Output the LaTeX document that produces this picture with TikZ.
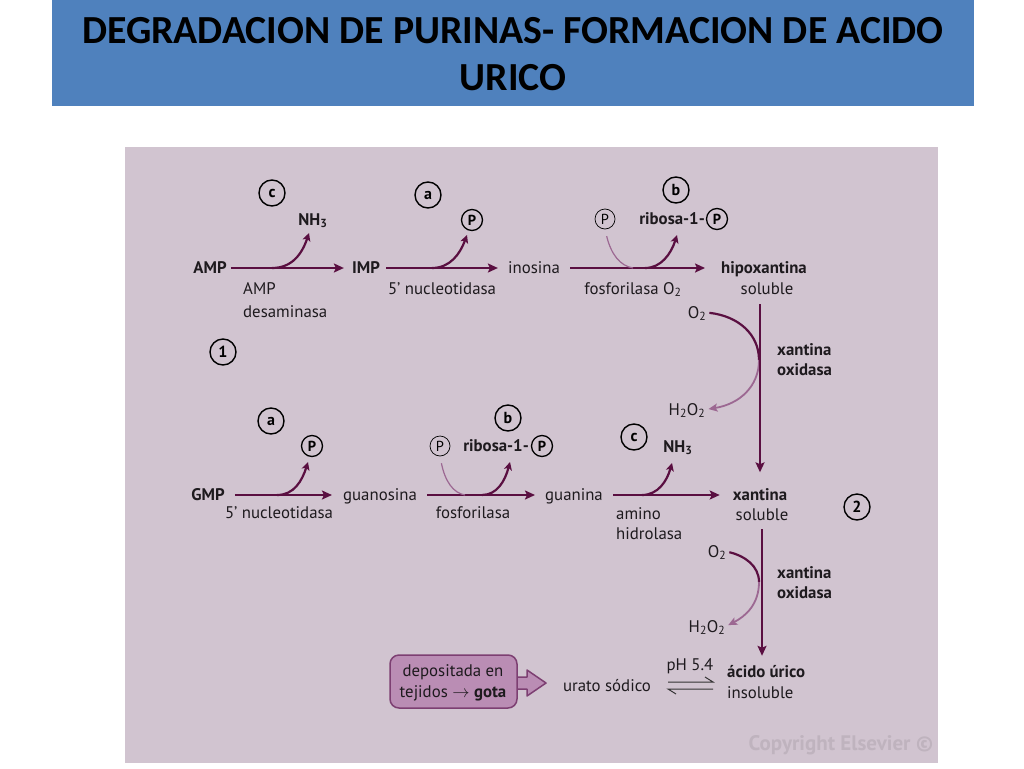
\documentclass[tikz,border=0pt]{standalone}
\usepackage{fontspec}
\setmainfont{PT Sans}
\newfontfamily\titlefont{Carlito}
\usetikzlibrary{arrows.meta}
\definecolor{titleblue}{HTML}{4F81BD}
\definecolor{panelbg}{HTML}{D1C4D0}
\definecolor{darkarrow}{HTML}{5A0F41}
\definecolor{lightarrow}{HTML}{9C6892}
\definecolor{boxfill}{HTML}{BA8DB4}
\definecolor{boxedge}{HTML}{7D3F72}
\definecolor{copyc}{HTML}{BFB3BE}
\definecolor{txt}{HTML}{1E1A1E}
\begin{document}
\begin{tikzpicture}[x=1pt,y=-1pt,
  lbl/.style={anchor=base, inner sep=0pt, text height=13pt, text depth=2pt, text=txt, font=\fontsize{16.8}{19}\selectfont},
  blbl/.style={lbl, font=\fontsize{16.8}{19}\selectfont\bfseries},
  circ/.style={circle, draw=black, line width=1.4pt, minimum size=26pt, inner sep=0pt, text=black, font=\fontsize{16}{16}\selectfont\bfseries},
  pbold/.style={circle, draw=black, line width=1.3pt, minimum size=21pt, inner sep=0pt, text=black, font=\fontsize{14.5}{14}\selectfont\bfseries},
  pthin/.style={circle, draw=black, line width=0.7pt, minimum size=20pt, inner sep=0pt, text=black, font=\fontsize{14.5}{14}\selectfont},
  mainarrow/.style={draw=darkarrow, line width=2.2pt, -{Stealth[length=10pt,width=9pt,inset=2pt]}},
  brancharrow/.style={draw=darkarrow, line width=2.2pt, -{Stealth[length=8pt,width=8pt,inset=2pt]}},
  darkarc/.style={draw=darkarrow, line width=2.2pt},
  lightarc/.style={draw=lightarrow, line width=1.8pt, -{Stealth[length=9pt,width=8pt,inset=2pt]}},
  thinarc/.style={draw=lightarrow, line width=1.2pt},
  vline/.style={draw=darkarrow, line width=2pt, -{Stealth[length=10pt,width=9pt,inset=2pt]}}
]
\useasboundingbox (0,0) rectangle (1024,768);
\fill[white] (0,0) rectangle (1024,768);
% title bar
\fill[titleblue] (52,0) rectangle (974,106);
\node[anchor=base, inner sep=0pt, font=\titlefont\fontsize{39.8}{42}\selectfont\bfseries] (title1) at (513,44) {DEGRADACION DE PURINAS- FORMACION DE ACIDO};
\node[anchor=base, inner sep=0pt, font=\titlefont\fontsize{39.8}{42}\selectfont\bfseries] (title2) at (513,90) {URICO};
% panel
\fill[panelbg] (125,147) rectangle (938,763);

% ---------- row 1 ----------
\node[blbl] (amp) at (210,273.5) {AMP};
\node[blbl] (imp) at (366,273.5) {IMP};
\node[lbl] (ino) at (534,273.5) {inosina};
\node[blbl] (hipo) at (764,273.5) {hipoxantina};
\node[lbl] (hsol) at (767,294) {soluble};

\node[lbl, anchor=base west] (ampe1) at (243,294) {AMP};
\node[lbl, anchor=base west] (ampe2) at (243,317) {desaminasa};
\node[lbl] (nuc1) at (442,294) {5’ nucleotidasa};
\node[lbl] (fos1) at (633,294) {fosforilasa O\textsubscript{2}};

\node[circ] (c1) at (272,193) {c};
\node[blbl] (nh3a) at (313,225) {NH\textsubscript{3}};
\node[circ] (a1) at (428,195) {a};
\node[pbold] (p1) at (472,220) {P};
\node[circ] (b1) at (676,190) {b};
\node[pthin] (pt1) at (605,219) {P};
\node[blbl, anchor=base east] (rib1) at (705,224.5) {ribosa-1-};
\node[pbold] (p2) at (717,219) {P};
\node[circ] (n1) at (223,352) {1};

\draw[mainarrow, shorten <=4pt, shorten >=8pt] (amp.east) -- (imp.west);
\draw[mainarrow, shorten <=6pt, shorten >=10pt] (imp.east) -- (ino.west);
\draw[mainarrow, shorten <=10pt, shorten >=16pt] (ino.east) -- (hipo.west);

\coordinate (s1) at (272,268);
\coordinate (t1) at (309,233);
\draw[brancharrow] (s1) .. controls (292,268) and (302,254) .. (t1);
\coordinate (s2) at (432,268);
\coordinate (t2) at (467,235);
\draw[brancharrow] (s2) .. controls (450,268) and (460,254) .. (t2);
\coordinate (s3) at (633,268);
\draw[thinarc, shorten <=7pt] (pt1.south) .. controls (611,254) and (620,266) .. (s3);
\coordinate (s4) at (645,268);
\coordinate (t4) at (677,235);
\draw[brancharrow] (s4) .. controls (661,268) and (671,254) .. (t4);

% xantina oxidasa 1
\node[blbl, anchor=base west] (xo1a) at (777,355) {xantina};
\node[blbl, anchor=base west] (xo1b) at (777,375) {oxidasa};
\node[lbl] (o2a) at (697,318) {O\textsubscript{2}};
\node[lbl] (h2o2a) at (687,415) {H\textsubscript{2}O\textsubscript{2}};
\coordinate (m1) at (759,360);
\draw[darkarc, shorten <=3pt] (o2a.east) .. controls (738,316) and (759,334) .. (m1);
\draw[lightarc, shorten >=3pt] (m1) .. controls (759,386) and (740,404) .. (h2o2a.east);

% ---------- row 2 ----------
\node[blbl] (gmp) at (208,500.5) {GMP};
\node[lbl] (guo) at (380,500.5) {guanosina};
\node[lbl] (gua) at (574,500.5) {guanina};
\node[blbl] (xan) at (760,500.5) {xantina};
\node[lbl] (xsol) at (762,520) {soluble};

\node[lbl] (nuc2) at (279,518) {5’ nucleotidasa};
\node[lbl] (fos2) at (473,518) {fosforilasa};
\node[lbl, anchor=base west] (ami1) at (616,519) {amino};
\node[lbl, anchor=base west] (ami2) at (616,539) {hidrolasa};

\node[circ] (a2) at (271,421) {a};
\node[pbold] (p3) at (312,446) {P};
\node[circ] (b2) at (508,418) {b};
\node[pthin] (pt2) at (440,446) {P};
\node[blbl, anchor=base east] (rib2) at (529,451.5) {ribosa-1-};
\node[pbold] (p4) at (542,446) {P};
\node[circ] (c2) at (634,437) {c};
\node[blbl] (nh3b) at (678,452) {NH\textsubscript{3}};
\node[circ] (n2) at (857,507) {2};

\draw[mainarrow, shorten <=10pt, shorten >=11pt] (gmp.east) -- (guo.west);
\draw[mainarrow, shorten <=10pt, shorten >=10pt] (guo.east) -- (gua.west);
\draw[mainarrow, shorten <=10pt, shorten >=13pt] (gua.east) -- (xan.west);

\coordinate (s5) at (277,495);
\coordinate (t5) at (308,462);
\draw[brancharrow] (s5) .. controls (294,495) and (302,481) .. (t5);
\coordinate (s6) at (465,495);
\draw[thinarc, shorten <=7pt] (pt2.south) .. controls (445,481) and (453,493) .. (s6);
\coordinate (s7) at (482,495);
\coordinate (t7) at (510,462);
\draw[brancharrow] (s7) .. controls (497,495) and (505,481) .. (t7);
\coordinate (s8) at (642,495);
\coordinate (t8) at (672,463);
\draw[brancharrow] (s8) .. controls (658,495) and (667,481) .. (t8);

% vertical arrow 1
\draw[vline, shorten <=8pt, shorten >=15pt] (xan.north |- hsol.south) -- (xan.north);

% xantina oxidasa 2
\node[blbl, anchor=base west] (xo2a) at (777,578) {xantina};
\node[blbl, anchor=base west] (xo2b) at (777,598) {oxidasa};
\node[lbl] (o2b) at (717,557) {O\textsubscript{2}};
\node[lbl] (h2o2b) at (707,632) {H\textsubscript{2}O\textsubscript{2}};
\coordinate (m2) at (759,582);
\draw[darkarc, shorten <=3pt] (o2b.east) .. controls (745,556) and (759,566) .. (m2);
\draw[lightarc, shorten >=3pt] (m2) .. controls (759,604) and (746,616) .. (h2o2b.east);

% bottom row
\node[blbl, anchor=base west] (acido) at (727,677) {ácido úrico};
\node[lbl, anchor=base west] (insol) at (727,698) {insoluble};
\draw[vline, shorten <=7pt, shorten >=8pt] (xsol.south) -- (xsol.south |- acido.north);

\node[lbl] (ph) at (690,670) {pH 5.4};
\draw[draw=black!80, line width=1pt] (668,682) -- (713,682) -- (705,677);
\draw[draw=black!80, line width=1pt] (713,689) -- (668,689) -- (676,694);
\node[lbl] (urato) at (607,691) {urato sódico};

\filldraw[fill=boxfill, draw=boxedge, line width=1.5pt, line join=round] (512,677) -- (527,677) -- (527,670) -- (546,683) -- (527,696) -- (527,689) -- (512,689);
\filldraw[fill=boxfill, draw=boxedge, line width=1.5pt, rounded corners=9pt] (390,655) rectangle (517,708);
\node[lbl] (dep1) at (453,676) {depositada en};
\node[lbl] (dep2) at (453,697) {tejidos $\rightarrow$ \textbf{gota}};

\node[anchor=base, inner sep=0pt, text=copyc, font=\fontsize{21}{22}\selectfont\bfseries] (copy) at (841,750) {Copyright Elsevier ©};
\end{tikzpicture}
\end{document}
